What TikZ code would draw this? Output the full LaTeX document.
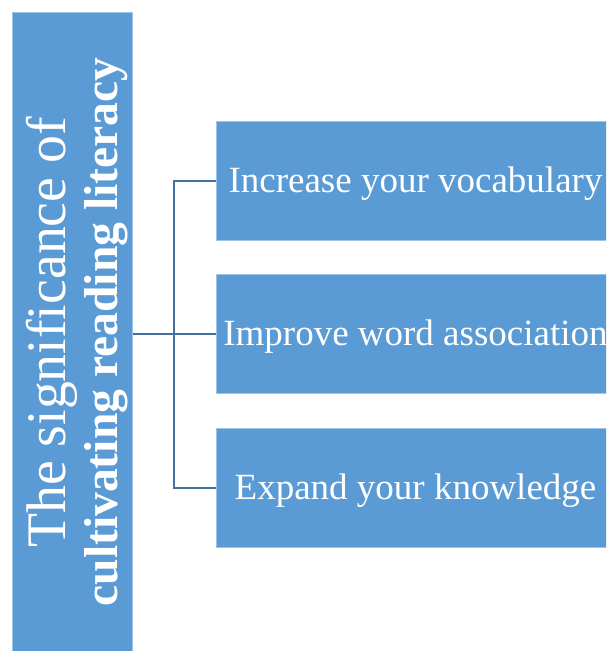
\documentclass[tikz,border=0pt]{standalone}
\usepackage{fontspec}
\setmainfont{Liberation Serif}
\definecolor{boxblue}{HTML}{5B9BD5}
\definecolor{boxedge}{HTML}{9DC3E6}
\definecolor{linkblue}{HTML}{41719C}
\tikzset{
  panel/.style={fill=boxblue, draw=boxedge, line width=0.8pt, inner sep=0pt, outer sep=0pt},
  itembox/.style={panel, minimum width=399pt, minimum height=119pt, text=white,
    font=\fontsize{37}{44}\selectfont, text height=25pt, text depth=2pt},
  link/.style={draw=linkblue, line width=2pt},
}
\begin{document}
\begin{tikzpicture}[x=1pt,y=-1pt]
\useasboundingbox (0,0) rectangle (606,651);
\clip (0,0) rectangle (606,651);
\node[panel, minimum width=120pt, minimum height=643pt] (L) at (72.5,333.5) {};
\node[anchor=base, rotate=90, text=white, inner sep=0pt, font=\fontsize{55.8}{60}\selectfont] (L1) at (65,332.5) {The significance of};
\node[anchor=base, rotate=90, text=white, inner sep=0pt, font=\fontsize{47.6}{52}\selectfont\bfseries] (L2) at (117,332) {cultivating reading literacy};
\node[itembox] (b1) at (415.5,180.5) {Increase your vocabulary};
\node[itembox] (b2) at (415.5,333.5) {Improve word association};
\node[itembox] (b3) at (415.5,487.5) {Expand your knowledge};
\coordinate (j) at (174,333.5);
\draw[link] (b1.west) -| (j) |- (b3.west);
\draw[link] (L.east |- b2.west) -- (b2.west);
\end{tikzpicture}
\end{document}
